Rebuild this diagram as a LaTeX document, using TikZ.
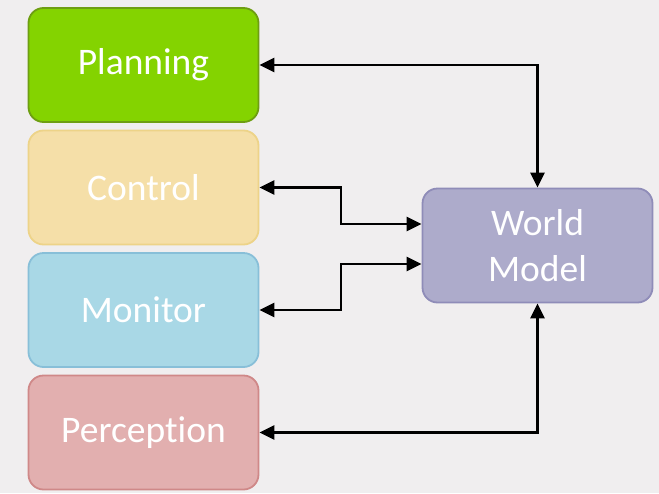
\documentclass[tikz,border=0pt]{standalone}
\usepackage{fontspec}
\setmainfont{Carlito}[Ligatures=CommonOff]
\usetikzlibrary{arrows.meta}
\definecolor{bgc}{HTML}{F0EEEF}
\definecolor{planF}{HTML}{84D300}
\definecolor{planD}{HTML}{6E9E12}
\definecolor{ctrlF}{HTML}{F5DFA8}
\definecolor{ctrlD}{HTML}{EDD388}
\definecolor{monF}{HTML}{A9D8E6}
\definecolor{monD}{HTML}{88BFD8}
\definecolor{perF}{HTML}{E2AFAF}
\definecolor{perD}{HTML}{CF8888}
\definecolor{wmF}{HTML}{ADABCB}
\definecolor{wmD}{HTML}{8F8CB8}
\tikzset{
  block/.style={rectangle, rounded corners=15pt, line width=1.8pt,
    minimum width=230pt, minimum height=114pt, text=white, align=center,
    font=\fontsize{37.5}{46}\selectfont},
  link/.style={line width=2.4pt, black,
    {Triangle[length=15pt,width=14pt]}-{Triangle[length=15pt,width=14pt]}}
}
\begin{document}
\begin{tikzpicture}[x=1pt,y=-1pt]
  \fill[bgc] (0,0) rectangle (659,493);
  \useasboundingbox (0,0) rectangle (659,493);

  \node[block, fill=planF, draw=planD] (plan) at (143.5,65) {Planning};
  \node[block, fill=ctrlF, draw=ctrlD] (ctrl) at (143.5,187.5) {Control};
  \node[block, fill=monF, draw=monD] (mon) at (143.5,310) {Monitor};
  \node[block, fill=perF, draw=perD] (perc) at (143.5,432.5) {Perception};
  \node[block, fill=wmF, draw=wmD] (wm) at (537.5,245.5) {World\\Model};

  \coordinate (jc) at (341,187.5);
  \coordinate (jm) at (341,310);

  \draw[link] (plan.east) -| (wm.north);
  \draw[link] (ctrl.east) -- (jc) |- ([yshift=21.5pt]wm.west);
  \draw[link] (mon.east) -- (jm) |- ([yshift=-18.5pt]wm.west);
  \draw[link] (perc.east) -| (wm.south);
\end{tikzpicture}
\end{document}
